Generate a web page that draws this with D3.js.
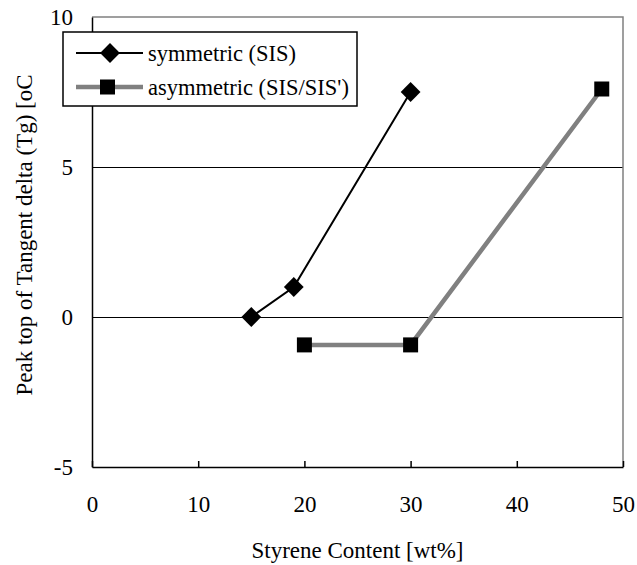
<!DOCTYPE html>
<html>
<head>
<meta charset="utf-8">
<script src="https://cdn.jsdelivr.net/npm/d3@7"></script>
</head>
<body style="margin:0;background:#fff">
<div class="vizcontainer"></div>
<script>
const xTicks = [0, 10, 20, 30, 40, 50];
const yTicks = [-5, 0, 5, 10];
const seriesNames = ["symmetric (SIS)", "asymmetric (SIS/SIS')"];
const symX = [15, 19, 30];
const symY = [0, 1.0, 7.5];
const asymX = [20, 30, 48];
const asymY = [-0.93, -0.93, 7.6];

const W = 637, H = 565;
const plot = { left: 92, right: 623, top: 17, bottom: 467 };
const serif = '"Liberation Serif", "Times New Roman", serif';

const svg = d3.select(".vizcontainer").append("svg")
  .attr("width", W).attr("height", H);

const x = d3.scaleLinear().domain([0, 50]).range([plot.left, plot.right]);
const y = d3.scaleLinear().domain([-5, 10]).range([plot.bottom, plot.top]);

// gridlines at inner y ticks
svg.append("g").selectAll("line")
  .data(yTicks.filter(d => d > -5 && d < 10))
  .enter().append("line")
  .attr("x1", plot.left).attr("x2", plot.right)
  .attr("y1", d => Math.round(y(d)) + 0.5).attr("y2", d => Math.round(y(d)) + 0.5)
  .attr("stroke", "#000").attr("stroke-width", 1);

// top and right border (grey)
svg.append("path")
  .attr("d", `M${plot.left},${plot.top}H${plot.right}V${plot.bottom}`)
  .attr("fill", "none").attr("stroke", "#808080").attr("stroke-width", 1.5);

// x axis
const xAxis = d3.axisBottom(x).tickValues(xTicks).tickSizeInner(-6).tickSizeOuter(0)
  .tickPadding(45).tickFormat(d => String(d));
const gx = svg.append("g").attr("transform", `translate(0,${plot.bottom})`).call(xAxis);
gx.select(".domain").attr("stroke", "#000").attr("stroke-width", 1.5);
gx.selectAll(".tick line").attr("stroke", "#000").attr("stroke-width", 1.5);
gx.selectAll(".tick text").attr("dy", "0")
  .style("font-family", serif).style("font-size", "23px").style("fill", "#000");

// y axis
const yAxis = d3.axisLeft(y).tickValues(yTicks).tickSize(0).tickPadding(19)
  .tickFormat(d => String(d));
const gy = svg.append("g").attr("transform", `translate(${plot.left},0)`).call(yAxis);
gy.select(".domain").attr("stroke", "#000").attr("stroke-width", 1.5);
gy.selectAll(".tick text")
  .style("font-family", serif).style("font-size", "23px").style("fill", "#000");

// axis titles
svg.append("text")
  .attr("x", (plot.left + plot.right) / 2).attr("y", 558)
  .attr("text-anchor", "middle")
  .style("font-family", serif).style("font-size", "23px")
  .text("Styrene Content [wt%]");

svg.append("text")
  .attr("transform", "rotate(-90)")
  .attr("x", -235).attr("y", 32)
  .attr("text-anchor", "middle")
  .style("font-family", serif).style("font-size", "23px")
  .text("Peak top of Tangent delta (Tg) [oC");

const line = d3.line().x(d => x(d[0])).y(d => y(d[1]));
const symData = symX.map((v, i) => [v, symY[i]]);
const asymData = asymX.map((v, i) => [v, asymY[i]]);

svg.append("path").datum(asymData).attr("d", line)
  .attr("fill", "none").attr("stroke", "#808080").attr("stroke-width", 4.5);
svg.append("path").datum(symData).attr("d", line)
  .attr("fill", "none").attr("stroke", "#000").attr("stroke-width", 2);

const diamond = d3.symbol().type(d3.symbolSquare).size(196);
svg.append("g").selectAll("path").data(symData).enter().append("path")
  .attr("d", diamond)
  .attr("transform", d => `translate(${x(d[0])},${y(d[1])}) rotate(45)`)
  .attr("fill", "#000");

svg.append("g").selectAll("rect").data(asymData).enter().append("rect")
  .attr("x", d => x(d[0]) - 7.5).attr("y", d => y(d[1]) - 7.5)
  .attr("width", 15).attr("height", 15).attr("fill", "#000");

// legend
const legend = svg.append("g");
legend.append("rect")
  .attr("x", 63).attr("y", 32).attr("width", 294).attr("height", 74)
  .attr("fill", "#fff").attr("stroke", "#000").attr("stroke-width", 1.5);

legend.append("line").attr("x1", 76).attr("x2", 143).attr("y1", 53).attr("y2", 53)
  .attr("stroke", "#000").attr("stroke-width", 2);
legend.append("path").attr("d", diamond)
  .attr("transform", "translate(110,53) rotate(45)").attr("fill", "#000");
legend.append("line").attr("x1", 76).attr("x2", 143).attr("y1", 87).attr("y2", 87)
  .attr("stroke", "#808080").attr("stroke-width", 4.5);
legend.append("rect").attr("x", 100).attr("y", 79.5).attr("width", 15).attr("height", 15).attr("fill", "#000");

legend.selectAll("text.lab").data(seriesNames).enter().append("text")
  .attr("class", "lab")
  .attr("x", 148).attr("y", (d, i) => 53 + 34 * i)
  .attr("dy", "0.35em")
  .style("font-family", serif).style("font-size", "22.5px")
  .text(d => d);
</script>
</body>
</html>
